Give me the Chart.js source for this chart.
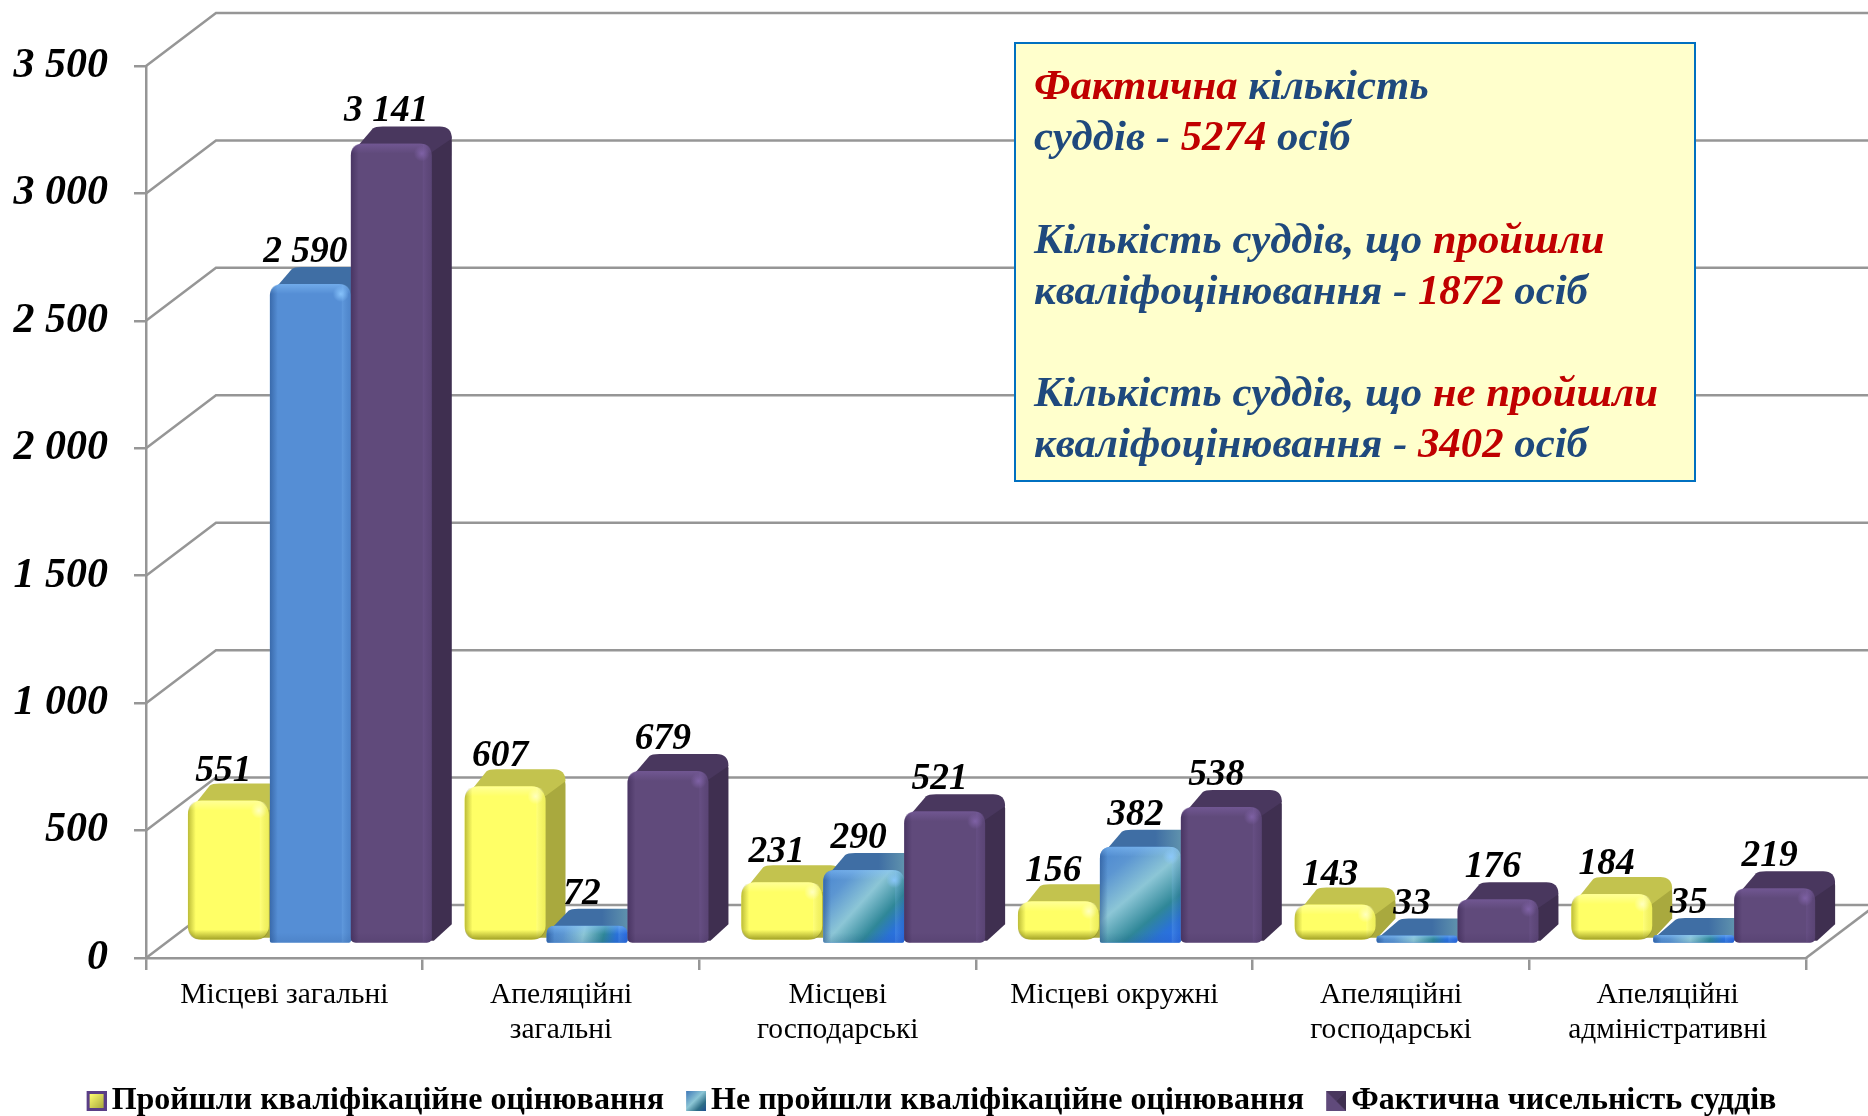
<!DOCTYPE html>
<html lang="uk">
<head>
<meta charset="utf-8">
<title>Кваліфікаційне оцінювання суддів</title>
<style>
html,body{margin:0;padding:0;background:#fff;width:1868px;height:1116px;overflow:hidden}
canvas{display:block}
</style>
<script src="https://cdn.jsdelivr.net/npm/chart.js@4/dist/chart.umd.min.js"></script>
</head>
<body>
<canvas id="c" width="1868" height="1116"></canvas>
<script>
const categories = [
  ["Місцеві загальні"],
  ["Апеляційні", "загальні"],
  ["Місцеві", "господарські"],
  ["Місцеві окружні"],
  ["Апеляційні", "господарські"],
  ["Апеляційні", "адміністративні"]
];
const passedName = "Пройшли кваліфікаційне оцінювання";
const failedName = "Не пройшли кваліфікаційне оцінювання";
const actualName = "Фактична чисельність суддів";
const passed = [551, 607, 231, 156, 143, 184];
const failed = [2590, 72, 290, 382, 33, 35];
const actual = [3141, 679, 521, 538, 176, 219];
const calloutLines = [
  [["Фактична", "r"], [" кількість", "b"]],
  [["суддів - ", "b"], ["5274", "r"], [" осіб", "b"]],
  [["Кількість суддів, що ", "b"], ["пройшли", "r"]],
  [["кваліфоцінювання - ", "b"], ["1872", "r"], [" осіб", "b"]],
  [["Кількість суддів, що ", "b"], ["не пройшли", "r"]],
  [["кваліфоцінювання - ", "b"], ["3402", "r"], [" осіб", "b"]]
];

const SERIF = '"Liberation Serif", "Times New Roman", serif';
const GRID = '#969696';
const fmt = v => String(v).replace(/\B(?=(\d{3})+$)/g, ' ');

const looks = [
  {dx: 25, dy: -17, base: '#FFFF66', top: '#C3C34E', side: '#A9A93E', edge: 'rgba(120,120,10,', glow: 'rgba(255,255,200,', r: 14, rb: 14, labelUp: 20},
  {dx: 26, dy: -14, base: '#558ED5', top: '#3F6EA4', side: '#3A6A94', edge: 'rgba(30,70,130,', glow: 'rgba(140,200,255,', r: 12, rb: 2, labelUp: 22},
  {dx: 26, dy: -14, base: '#604A7B', top: '#49375E', side: '#3F2F50', edge: 'rgba(50,32,75,', glow: 'rgba(130,100,170,', r: 12, rb: 5, labelUp: 22}
];
const DEPTH_X = 20, DEPTH_Y = 17;

function rrect(ctx, x, y, w, h, rt, rb) {
  rt = Math.min(rt, w / 2, h / 2); rb = Math.min(rb, w / 2, h / 2);
  ctx.beginPath();
  ctx.moveTo(x + rt, y);
  ctx.lineTo(x + w - rt, y);
  ctx.quadraticCurveTo(x + w, y, x + w, y + rt);
  ctx.lineTo(x + w, y + h - rb);
  ctx.quadraticCurveTo(x + w, y + h, x + w - rb, y + h);
  ctx.lineTo(x + rb, y + h);
  ctx.quadraticCurveTo(x, y + h, x, y + h - rb);
  ctx.lineTo(x, y + rt);
  ctx.quadraticCurveTo(x, y, x + rt, y);
  ctx.closePath();
}

function geom(el) {
  const p = el.getProps(['x', 'y', 'base', 'width'], true);
  return {x0: p.x - p.width / 2, x1: p.x + p.width / 2, y0: p.y, y1: p.base, w: p.width, h: p.base - p.y, cx: p.x};
}

function drawBack(ctx, g, s, idx, di) {
  const r = Math.min(s.r, g.h / 2, g.w / 2);
  const bx = DEPTH_X, by = DEPTH_Y;
  // side face
  ctx.fillStyle = s.side;
  ctx.beginPath();
  ctx.moveTo(g.x1 - r, g.y0 + r);
  ctx.lineTo(g.x1 + bx - 2, g.y0 - by + r * 0.6);
  ctx.quadraticCurveTo(g.x1 + bx, g.y0 - by + r * 0.8, g.x1 + bx, g.y0 - by + r * 1.2);
  ctx.lineTo(g.x1 + bx, g.y1 - by - s.rb * 0.3);
  ctx.lineTo(g.x1 + 2, g.y1 - 2);
  ctx.lineTo(g.x1 - r, g.y1 - 2);
  ctx.closePath();
  ctx.fill();
  // top face
  let topFill = s.top;
  if (di === 1 && idx > 0) {
    const t = ctx.createLinearGradient(g.x0, g.y0, g.x1 + bx, g.y0);
    t.addColorStop(0, '#3F6EA4'); t.addColorStop(0.55, '#3F6EA4'); t.addColorStop(1, '#78AEB4');
    topFill = t;
  }
  ctx.fillStyle = topFill;
  const tr = 12;
  ctx.beginPath();
  ctx.moveTo(g.x0 + 1, g.y0 + r * 0.8);
  ctx.lineTo(g.x0 + bx + 2, g.y0 - by + 2);
  ctx.quadraticCurveTo(g.x0 + bx + 4, g.y0 - by, g.x0 + bx + tr, g.y0 - by);
  ctx.lineTo(g.x1 + bx - tr, g.y0 - by);
  ctx.quadraticCurveTo(g.x1 + bx, g.y0 - by, g.x1 + bx, g.y0 - by + tr);
  ctx.lineTo(g.x1 - r * 0.4, g.y0 + r);
  ctx.lineTo(g.x0 + r, g.y0 + r);
  ctx.closePath();
  ctx.fill();
}

function drawBevel(ctx, g, s, idx, di) {
  const band = Math.min(10, g.h / 2);
  ctx.save();
  rrect(ctx, g.x0, g.y0, g.w, g.h, s.r, s.rb);
  ctx.clip();
  if (di === 1 && idx > 0) {
    const d = ctx.createLinearGradient(g.x0, g.y0, g.x1, g.y1);
    d.addColorStop(0, '#4A86D0'); d.addColorStop(0.22, '#5C96D2'); d.addColorStop(0.46, '#8CC6D6');
    d.addColorStop(0.7, '#2F8798'); d.addColorStop(0.85, '#2A72D8'); d.addColorStop(1, '#2A6CF0');
    ctx.fillStyle = d;
    ctx.fillRect(g.x0, g.y0, g.w, g.h);
  }
  let gr = ctx.createLinearGradient(g.x0, 0, g.x0 + 8, 0);
  gr.addColorStop(0, s.edge + '0.5)'); gr.addColorStop(1, s.edge + '0)');
  ctx.fillStyle = gr; ctx.fillRect(g.x0, g.y0, 8, g.h);
  gr = ctx.createLinearGradient(g.x1 - 9, 0, g.x1, 0);
  gr.addColorStop(0, s.glow + '0.2)'); gr.addColorStop(1, s.edge + '0.12)');
  ctx.fillStyle = gr; ctx.fillRect(g.x1 - 9, g.y0, 9, g.h);
  gr = ctx.createLinearGradient(0, g.y0, 0, g.y0 + band);
  gr.addColorStop(0, s.glow + '0.5)'); gr.addColorStop(1, s.glow + '0)');
  ctx.fillStyle = gr; ctx.fillRect(g.x0, g.y0, g.w, band);
  gr = ctx.createLinearGradient(0, g.y1 - band, 0, g.y1);
  gr.addColorStop(0, s.edge + '0)'); gr.addColorStop(1, s.edge + (di === 0 ? '0.7)' : '0.15)'));
  ctx.fillStyle = gr; ctx.fillRect(g.x0, g.y1 - band, g.w, band);
  if (g.h > 20) {
    const hx = g.x1 - 10, hy = g.y0 + 10;
    gr = ctx.createRadialGradient(hx, hy, 0, hx, hy, 8);
    gr.addColorStop(0, s.glow + '0.9)'); gr.addColorStop(1, s.glow + '0)');
    ctx.fillStyle = gr; ctx.fillRect(hx - 8, hy - 8, 16, 16);
  }
  ctx.restore();
}

const depthBars = {
  id: 'depthBars',
  beforeDatasetDraw(chart, args) {
    const ctx = chart.ctx, s = looks[args.index];
    ctx.save();
    ctx.translate(s.dx, s.dy);
    args.meta.data.forEach((el, i) => drawBack(ctx, geom(el), s, i, args.index));
  },
  afterDatasetDraw(chart, args) {
    const ctx = chart.ctx, s = looks[args.index];
    args.meta.data.forEach((el, i) => drawBevel(ctx, geom(el), s, i, args.index));
    ctx.restore();
  }
};

const walls = {
  id: 'walls',
  beforeDatasetsDraw(chart) {
    const ctx = chart.ctx, y = chart.scales.y, a = chart.chartArea;
    const bx = 70, by = 53;
    ctx.save();
    ctx.strokeStyle = GRID; ctx.lineWidth = 2.5;
    y.ticks.forEach(t => {
      const py = y.getPixelForValue(t.value);
      ctx.beginPath();
      ctx.moveTo(a.left, py);
      ctx.lineTo(a.left + bx, py - by);
      ctx.lineTo(chart.width, py - by);
      ctx.stroke();
    });
    ctx.beginPath();
    ctx.moveTo(a.right, a.bottom);
    ctx.lineTo(a.right + bx, a.bottom - by);
    ctx.stroke();
    ctx.restore();
    // Series are painted left to right so that each bar covers its neighbour's side face.
    chart.data.datasets.forEach((ds, di) => chart._drawDataset(chart.getDatasetMeta(di)));
    return false;
  }
};

// The legend is centred on the whole page, not on the space left of the right padding.
const legendCentre = {
  id: 'legendCentre',
  afterLayout(chart) {
    chart.legend.left = 1;
    chart.legend.right = chart.width + 1;
  }
};

const valueLabels = {
  id: 'valueLabels',
  afterDraw(chart) {
    const ctx = chart.ctx;
    ctx.save();
    ctx.font = 'italic bold 37.5px ' + SERIF;
    ctx.fillStyle = '#000';
    ctx.textAlign = 'center';
    ctx.textBaseline = 'alphabetic';
    chart.data.datasets.forEach((ds, di) => {
      const s = looks[di];
      chart.getDatasetMeta(di).data.forEach((el, i) => {
        const g = geom(el);
        ctx.fillText(fmt(ds.data[i]), g.cx + s.dx - 5, g.y0 + s.dy - s.labelUp);
      });
    });
    ctx.restore();
  }
};

const callout = {
  id: 'callout',
  afterDraw(chart) {
    const ctx = chart.ctx;
    const box = {x: 1015, y: 43, w: 680, h: 438};
    const baselines = [88, 139, 242, 293, 395, 446];
    const colors = {r: '#C00000', b: '#1F497D'};
    ctx.save();
    ctx.fillStyle = '#FFFFCC';
    ctx.fillRect(box.x, box.y, box.w, box.h);
    ctx.strokeStyle = '#0070C0'; ctx.lineWidth = 2;
    ctx.strokeRect(box.x, box.y, box.w, box.h);
    ctx.font = 'italic bold 42.8px ' + SERIF;
    ctx.textAlign = 'left';
    calloutLines.forEach((segs, i) => {
      let x = 1034;
      segs.forEach(([txt, c]) => {
        ctx.fillStyle = colors[c];
        ctx.fillText(txt, x, baselines[i]);
        x += ctx.measureText(txt).width;
      });
    });
    ctx.restore();
  }
};

function marker(kind) {
  const m = document.createElement('canvas');
  m.width = 24; m.height = 20;
  const c = m.getContext('2d');
  c.translate(4, 0);
  if (kind === 0) {
    c.fillStyle = '#5A3E86'; c.fillRect(0, 0, 20, 20);
    const g = c.createLinearGradient(3, 3, 17, 17);
    g.addColorStop(0, '#FFFF70'); g.addColorStop(1, '#A9A93E');
    c.fillStyle = g; c.fillRect(3, 3, 14, 14);
  } else if (kind === 1) {
    const g = c.createLinearGradient(0, 0, 20, 20);
    g.addColorStop(0, '#3F78B8'); g.addColorStop(0.45, '#8CC6D6'); g.addColorStop(0.75, '#2F6F88'); g.addColorStop(1, '#1F4F90');
    c.fillStyle = g; c.fillRect(0, 0, 20, 20);
  } else {
    c.fillStyle = '#604A7B'; c.fillRect(0, 0, 20, 20);
    c.fillStyle = '#3F2F50';
    c.beginPath(); c.moveTo(20, 0); c.lineTo(20, 20); c.lineTo(10, 10); c.closePath(); c.fill();
    c.fillStyle = '#49375E';
    c.beginPath(); c.moveTo(0, 0); c.lineTo(20, 0); c.lineTo(10, 10); c.closePath(); c.fill();
  }
  return m;
}

const LAYOUT_BOTTOM = -11;

new Chart(document.getElementById('c'), {
  type: 'bar',
  data: {
    labels: categories,
    datasets: [
      {label: passedName, data: passed, pointStyle: marker(0), backgroundColor: looks[0].base, borderRadius: looks[0].r, borderSkipped: false, clip: false},
      {label: failedName, data: failed, pointStyle: marker(1), backgroundColor: looks[1].base,
       borderRadius: {topLeft: looks[1].r, topRight: looks[1].r, bottomLeft: looks[1].rb, bottomRight: looks[1].rb}, borderSkipped: false, clip: false},
      {label: actualName, data: actual, pointStyle: marker(2), backgroundColor: looks[2].base,
       borderRadius: {topLeft: looks[2].r, topRight: looks[2].r, bottomLeft: looks[2].rb, bottomRight: looks[2].rb}, borderSkipped: false, clip: false}
    ]
  },
  options: {
    responsive: false,
    animation: false,
    events: [],
    barPercentage: 1,
    categoryPercentage: 0.878,
    layout: {padding: {top: 66, left: 0, right: 62, bottom: LAYOUT_BOTTOM}},
    scales: {
      x: {
        grid: {drawOnChartArea: false, drawTicks: true, tickLength: 12, color: GRID, lineWidth: 2.5},
        border: {color: GRID, width: 2.5},
        ticks: {font: {family: SERIF, size: 29.5, lineHeight: 1.21}, color: '#000', padding: 7, maxRotation: 0, autoSkip: false},
        afterFit(scale) {
          const lg = scale.chart.legend ? scale.chart.legend.height : 0;
          scale.height = 1116 - 958 - lg - LAYOUT_BOTTOM;
        }
      },
      y: {
        min: 0, max: 3500,
        grid: {drawOnChartArea: false, drawTicks: true, tickLength: 12, color: GRID, lineWidth: 2.5},
        border: {color: GRID, width: 2.5},
        ticks: {stepSize: 500, font: {family: SERIF, size: 42, style: 'italic', weight: 'bold'}, color: '#000', padding: 26, callback: v => fmt(v)},
        afterFit(scale) { scale.width = 146; }
      }
    },
    plugins: {
      tooltip: {enabled: false},
      title: {display: false},
      legend: {
        display: true,
        position: 'bottom',
        labels: {
          usePointStyle: true,
          boxWidth: 2,
          boxHeight: 20,
          padding: 29,
          color: '#000',
          font: {family: SERIF, size: 32, weight: 'bold'}
        }
      }
    }
  },
  plugins: [legendCentre, walls, depthBars, valueLabels, callout]
});
</script>
</body>
</html>
